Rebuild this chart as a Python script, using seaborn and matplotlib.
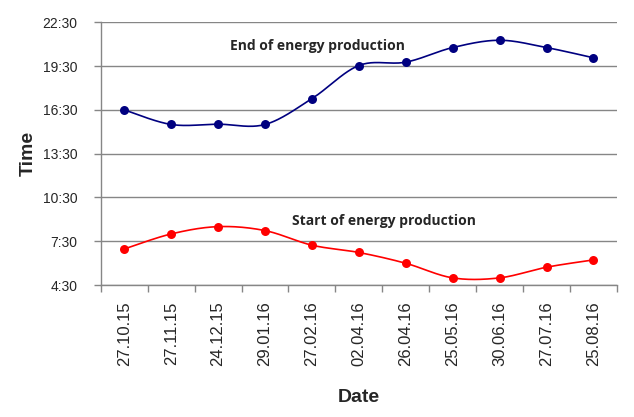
import numpy as np
import matplotlib
matplotlib.use('Agg')
import matplotlib.pyplot as plt
from matplotlib.ticker import FixedLocator, FuncFormatter
import seaborn as sns

# ─── Data (hours of day) ─────────────────────────────────────────────────────
dates = ['27.10.15', '27.11.15', '24.12.15', '29.01.16', '27.02.16', '02.04.16',
         '26.04.16', '25.05.16', '30.06.16', '27.07.16', '25.08.16']
end_hours = [16.50, 15.50, 15.52, 15.50, 17.27, 19.54, 19.77, 20.77, 21.27, 20.77, 20.07]
start_hours = [6.97, 8.00, 8.50, 8.23, 7.23, 6.73, 5.99, 4.99, 4.99, 5.72, 6.22]
y_ticks = [4.5, 7.5, 10.5, 13.5, 16.5, 19.5, 22.5]


def smooth_curve(ys, n=40):
    """Excel-like smoothed line (Catmull-Rom as cubic Bezier)."""
    pts = np.column_stack([np.arange(len(ys)), ys]).astype(float)
    ext = np.vstack([pts[0], pts, pts[-1]])
    out = []
    t = np.linspace(0, 1, n)[:, None]
    for i in range(len(pts) - 1):
        p0, p1, p2, p3 = ext[i], ext[i + 1], ext[i + 2], ext[i + 3]
        c1 = p1 + (p2 - p0) / 6
        c2 = p2 - (p3 - p1) / 6
        seg = ((1 - t) ** 3) * p1 + 3 * ((1 - t) ** 2) * t * c1 \
            + 3 * (1 - t) * t ** 2 * c2 + t ** 3 * p2
        out.append(seg if i == 0 else seg[1:])
    out = np.vstack(out)
    return out[:, 0], out[:, 1]


sns.set_style('white')
plt.rcParams['font.family'] = ['Liberation Sans', 'DejaVu Sans']

fig = plt.figure(figsize=(6.34, 4.17), dpi=100)
ax = fig.add_axes([0.159, 0.3165, 0.814, 0.630])

grid_col = '#868686'
x = np.arange(len(dates))
for ys, col in [(end_hours, '#000080'), (start_hours, '#FF0000')]:
    sx, sy = smooth_curve(ys)
    sns.lineplot(x=sx, y=sy, sort=False, color=col, linewidth=1.2, ax=ax,
                 estimator=None)
    sns.scatterplot(x=x, y=ys, color=col, s=42, edgecolor=col, linewidth=0,
                    ax=ax, zorder=5)

ax.set_xlim(-0.5, len(dates) - 0.5)
ax.set_ylim(4.5, 22.5)

# y axis
ax.yaxis.set_major_locator(FixedLocator(y_ticks))
ax.yaxis.set_major_formatter(FuncFormatter(
    lambda v, p: f'{int(v)}:{int(round((v - int(v)) * 60)):02d}'))
ax.yaxis.grid(True, color=grid_col, linewidth=1.0)
ax.set_axisbelow(True)
ax.tick_params(axis='y', which='major', direction='out', length=5, width=1,
               color=grid_col, labelsize=10, pad=12, left=True)

# x axis: labels at centres, tick marks at boundaries
ax.set_xticks(x)
ax.set_xticklabels(dates, rotation=90, fontsize=12)
ax.set_xticks(np.arange(len(dates) + 1) - 0.5, minor=True)
ax.tick_params(axis='x', which='major', length=0, pad=12)
ax.tick_params(axis='x', which='minor', direction='out', length=5, width=1,
               color=grid_col, bottom=True)

for side in ['top', 'right']:
    ax.spines[side].set_visible(False)
for side in ['left', 'bottom']:
    ax.spines[side].set_color(grid_col)
    ax.spines[side].set_linewidth(1.0)

ax.set_xlabel('Date', fontsize=14, fontweight='bold', labelpad=16)
ax.set_ylabel('Time', fontsize=14, fontweight='bold', labelpad=4)

ax.text(4.12, 20.88, 'End of energy production', ha='center', va='center',
        fontsize=10, fontweight='bold', family=['Open Sans', 'DejaVu Sans'])
ax.text(5.54, 8.91, 'Start of energy production', ha='center', va='center',
        fontsize=10, fontweight='bold', family=['Open Sans', 'DejaVu Sans'])

fig.savefig('out.png', dpi=100)
plt.close(fig)
